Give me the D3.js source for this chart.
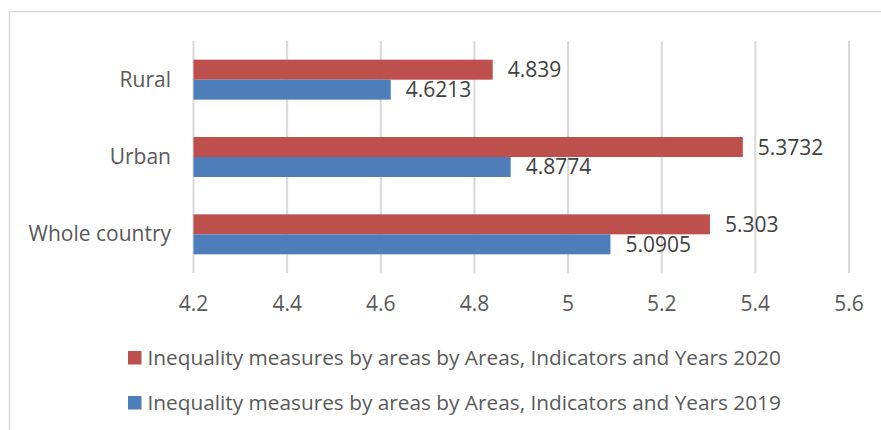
<html>
<head>
  <title> </title>
  <script src="https://d3js.org/d3.v7.min.js"></script>
  <style>
  body { margin: 0; background: #fff; }
  .grid line { stroke: #d9d9d9; stroke-width: 2px; }
  .tick-label { fill: #595959; font-family: "Open Sans"; font-size: 21px; }
  .cat-label { fill: #595959; font-family: "Open Sans"; font-size: 21px; }
  .value-label { fill: #404040; font-family: "Open Sans"; font-size: 21px; }
  .legend-text { fill: #595959; font-family: "Open Sans"; font-size: 20.8px; }
  </style>
</head>
<body>
  <svg id="chart" width="881" height="430"></svg>
  <script>
    // data
    const categories = ["Rural", "Urban", "Whole country"];
    const seriesNames = ["Inequality measures by areas by Areas, Indicators and Years 2020",
                         "Inequality measures by areas by Areas, Indicators and Years 2019"];
    const values2020 = [4.839, 5.3732, 5.303];
    const values2019 = [4.6213, 4.8774, 5.0905];
    const xTicks = [4.2, 4.4, 4.6, 4.8, 5, 5.2, 5.4, 5.6];
    const colors = ["#bd4f4c", "#4d7eb9"];

    const svg = d3.select("#chart");

    // chart frame
    svg.append("rect")
      .attr("x", 9.5).attr("y", 11.5)
      .attr("width", 900).attr("height", 500)
      .attr("fill", "none")
      .attr("stroke", "#d9d9d9")
      .attr("stroke-width", 1.5);

    const x = d3.scaleLinear().domain([4.2, 5.6]).range([193.5, 849]);
    const y = d3.scaleBand().domain(categories).range([41, 273])
      .paddingInner(0.483).paddingOuter(0.2415);
    const ySub = d3.scaleBand().domain([0, 1]).range([0, y.bandwidth()]);

    // gridlines
    svg.append("g").attr("class", "grid")
      .selectAll("line").data(xTicks).enter()
      .append("line")
      .attr("x1", d => x(d)).attr("x2", d => x(d))
      .attr("y1", 41).attr("y2", 273);

    // tick labels
    svg.selectAll(".tick-label").data(xTicks).enter()
      .append("text")
      .attr("class", "tick-label")
      .attr("x", d => x(d))
      .attr("y", 311)
      .attr("text-anchor", "middle")
      .text(d => d);

    // category labels
    svg.selectAll(".cat-label").data(categories).enter()
      .append("text")
      .attr("class", "cat-label")
      .attr("x", 171)
      .attr("y", d => y(d) + y.bandwidth() / 2 + 7)
      .attr("text-anchor", "end")
      .text(d => d);

    const series = [values2020, values2019];
    series.forEach(function (vals, s) {
      const g = svg.append("g");
      g.selectAll("rect").data(vals).enter()
        .append("rect")
        .attr("x", x(4.2))
        .attr("y", (d, i) => y(categories[i]) + ySub(s))
        .attr("width", d => x(d) - x(4.2))
        .attr("height", ySub.bandwidth())
        .attr("fill", colors[s]);
      g.selectAll("text").data(vals).enter()
        .append("text")
        .attr("class", "value-label")
        .attr("x", d => x(d) + 15)
        .attr("y", (d, i) => y(categories[i]) + ySub(s) + ySub.bandwidth() / 2 + 7.5)
        .text(d => d);
    });

    // legend
    const legend = svg.selectAll(".legend").data(seriesNames).enter()
      .append("g")
      .attr("transform", (d, i) => "translate(128," + (351 + i * 45) + ")");
    legend.append("rect")
      .attr("width", 13.5).attr("height", 13.5)
      .attr("fill", (d, i) => colors[i]);
    legend.append("text")
      .attr("class", "legend-text")
      .attr("x", 19.5).attr("y", 13.8)
      .text(d => d);
  </script>
</body>
</html>
